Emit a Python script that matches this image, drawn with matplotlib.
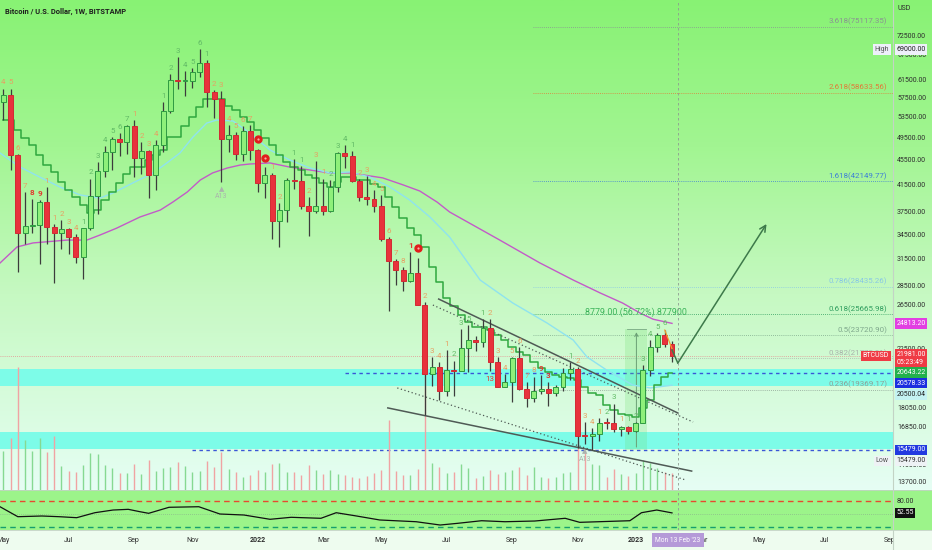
import numpy as np
import pandas as pd
import matplotlib
matplotlib.use('Agg')
import matplotlib.pyplot as plt
from matplotlib.colors import LinearSegmentedColormap
from matplotlib.patches import Rectangle
from matplotlib.lines import Line2D
from matplotlib.transforms import blended_transform_factory, offset_copy

plt.rcParams['font.family'] = ['Roboto', 'DejaVu Sans']

W, H = 932, 550

# ---------------- data: BTCUSD weekly, first candle = week of 3 May 2021 ----------------
start_date = '2021-05-03'
opens = [56600, 58250, 46450, 34700, 35650, 35800, 39050, 35600, 34700, 35300,
         34250, 31800, 35400, 39850, 43800, 47050, 49300, 48900, 51750, 46050,
         47250, 43200, 48200, 54900, 61500, 61300, 61350, 63300, 65500, 58750,
         57300, 49400, 50100, 46700, 50800, 47300, 41850, 43100, 36300, 37900,
         42400, 42200, 38400, 37700, 38400, 37800, 41300, 46850, 46400, 42150,
         39700, 39450, 38500, 34050, 31300, 30300, 29050, 29900, 26600, 20550,
         21050, 19300, 20850, 20800, 22600, 23300, 23150, 24400, 21500, 19570,
         19950, 21800, 19400, 18800, 19300, 19450, 19150, 19550, 20650, 20900,
         16300, 16280, 16450, 17100, 17090, 16750, 16830, 16610, 17130, 20870,
         22700, 23750, 22950]
highs = [59600, 59600, 46600, 40500, 39450, 39350, 41300, 36000, 36550, 35400,
         34650, 35450, 42600, 45300, 48100, 49700, 50500, 52000, 52900, 48800,
         47350, 49200, 56600, 62900, 67000, 63700, 64250, 69000, 66300, 59300,
         59100, 51950, 50650, 51900, 52100, 47600, 44400, 43500, 38900, 42650,
         45800, 44700, 39800, 45400, 42600, 42350, 47000, 48200, 47200, 42450,
         42950, 40800, 40000, 34250, 31500, 30650, 32350, 31650, 26850, 21850,
         21500, 22500, 21600, 24280, 24650, 23650, 25200, 25200, 21850, 20550,
         21850, 22750, 19950, 20350, 20450, 19950, 19700, 21000, 21450, 21050,
         17200, 16800, 17400, 17430, 18400, 16950, 16950, 17200, 21250, 23350,
         23950, 24250, 23200]
lows = [53000, 43900, 30000, 33400, 34800, 31000, 33350, 28800, 32700, 32150,
        31100, 29300, 35200, 37300, 42850, 43950, 46400, 46600, 42850, 43400,
        39600, 40800, 47100, 54400, 59600, 57900, 59700, 62300, 55600, 53300,
        42000, 47100, 45600, 45550, 45700, 40550, 39600, 34000, 32950, 36250,
        41000, 38000, 34350, 37400, 37150, 37600, 40500, 44250, 42100, 39200,
        38550, 37600, 33700, 26000, 28650, 28000, 29000, 26550, 17600, 19650,
        18650, 18950, 18950, 20750, 20700, 22400, 22700, 20800, 19550, 19550,
        18500, 19350, 18150, 18500, 19050, 18200, 18900, 19250, 20050, 15600,
        15800, 15479, 16000, 16700, 16550, 16300, 16450, 16550, 17100, 20400,
        22300, 22750, 21450]
closes = [58250, 46450, 34700, 35650, 35800, 39050, 35600, 34700, 35300, 34250,
          31800, 35400, 39850, 43800, 47050, 49300, 48900, 51750, 46050, 47250,
          43200, 48200, 54900, 61500, 61300, 61350, 63300, 65500, 58750, 57300,
          49400, 50100, 46700, 50800, 47300, 41850, 43100, 36300, 37900, 42400,
          42200, 38400, 37700, 38400, 37800, 41300, 46850, 46400, 42150, 39700,
          39450, 38500, 34050, 31300, 30300, 29050, 29900, 26600, 20550, 21050,
          19300, 20850, 20800, 22600, 23300, 23150, 24400, 21500, 19570, 19950,
          21800, 19400, 18800, 19300, 19450, 19150, 19550, 20650, 20900, 16300,
          16280, 16450, 17100, 17090, 16750, 16830, 16610, 17130, 20870, 22700,
          23750, 22950, 21981]
# volume, thousand BTC (approx.)
volumes = [39, 52, 123, 50, 39, 52, 38, 54, 24, 19, 18, 25, 37, 36, 25, 22, 17, 17, 26, 16,
           30, 19, 22, 23, 28, 24, 18, 19, 29, 23, 38, 21, 18, 13, 15, 20, 18, 26, 27, 18,
           18, 15, 25, 20, 16, 20, 16, 15, 13, 12, 14, 17, 20, 70, 19, 15, 15, 21, 132, 27,
           23, 17, 18, 26, 22, 12, 14, 20, 16, 18, 20, 23, 15, 23, 13, 12, 13, 17, 18, 50,
           40, 26, 25, 13, 21, 16, 14, 17, 30, 27, 22, 18, 17]
# stepped trailing line (one value per candle)
step_line = [53000, 53000, 51050, 49550, 48270, 46500, 44800, 43650, 42050, 40810,
             39760, 38590, 37450, 37870, 39320, 40500, 41890, 43330, 44470, 44470,
             45650, 46500, 47380, 49730, 49730, 51800, 53600, 55630, 57310, 57310,
             57310, 55830, 55000, 53600, 52600, 51050, 49550, 48270, 46500, 45300,
             44470, 43970, 43160, 42680, 41890, 41270, 42050, 42840, 42840, 42360,
             42360, 41740, 41270, 39760, 38300, 36770, 35400, 34500, 33000, 30620,
             28960, 27270, 26470, 25600, 24940, 24480, 24480, 24210, 23760, 23320,
             22720, 22300, 22050, 21480, 21000, 20690, 20460, 20300, 20250, 20090,
             19570, 19130, 18980, 18300, 17960, 17700, 17600, 17500, 18100, 18640,
             19710, 20300, 20643]
# moving averages read at sample points (candle index, price)
ema_idx = [-0.45, 2.3, 5, 7.8, 10.6, 13.3, 15.1, 17.8, 20.6, 22.5, 24.3, 26.1, 28, 29.4, 31.6,
           33.9, 36.7, 39.4, 42.2, 44.9, 47.7, 50.4, 53.2, 55.9, 58.7, 61.4, 65.6, 70.1, 74.8,
           78.4, 80.3, 83, 86.6, 89, 92]
ema_val = [46850, 44470, 42840, 41270, 40060, 39600, 40360, 41890, 43480, 45140, 46850, 49730,
           52400, 53000, 52800, 50500, 47380, 45650, 44300, 43500, 43650, 42840, 41270, 39320,
           36900, 34250, 29170, 26770, 24850, 23320, 21890, 20850, 19710, 19500, 19700]
ma_idx = [-0.45, 1.9, 4.1, 8.8, 11.5, 13.3, 15.6, 18.8, 21.6, 23.3, 25.3, 27.1, 28.8, 30.8, 32.6,
          33.9, 36.7, 39.4, 42.2, 44.9, 47.7, 52.2, 55, 57.3, 59.7, 61.4, 68.3, 73.8, 78.4, 82.1,
          85.2, 87.6, 89.4, 92]
ma_val = [31080, 33000, 33500, 33860, 33860, 34500, 35400, 36900, 37870, 39000, 40500, 42360,
          43500, 44300, 44800, 44970, 45150, 44460, 43970, 43500, 43500, 42700, 41600, 40660,
          39000, 37600, 33860, 31100, 29170, 27800, 26770, 25790, 25200, 24813.20]
# oscillator (lower pane)
osc_idx = [-0.45, 2, 5.3, 7.7, 10.1, 12.6, 15.1, 17.2, 18.8, 20, 22.8, 26.9, 29.8, 33.1, 36.7,
           39.6, 43.7, 45.8, 48.6, 51.8, 56.8, 60.1, 62.5, 65.8, 69, 73.1, 77.3, 79.3, 86.2,
           87.8, 89.9, 92]
osc_val = [66.8, 43.8, 45.4, 43.8, 41.5, 53.0, 59.2, 60.8, 55.3, 51.6, 65.5, 66.8, 50.0, 47.7,
           37.8, 42.4, 40.1, 53.0, 45.4, 36.2, 32.2, 24.6, 28.5, 34.5, 32.2, 33.8, 40.1, 30.8,
           34.5, 53.0, 59.2, 52.55]

# TD-style counts above candles: o = sell setup, g = buy setup, r = 8/9
td_idx = list(range(35)) + [37, 38, 40, 41, 42, 43, 44, 45, 46, 47, 48, 49, 50, 51, 52, 53, 54, 55,
                            56, 58, 59, 60, 61, 62, 63, 64, 66, 67, 68, 69, 70, 71, 72, 73, 74, 75,
                            78, 79, 80, 81, 82, 83, 84, 85, 86, 87, 88, 89, 90, 91, 92]
td_text = list('45678911234123456712341234561234567') + \
    list('12112312341234567812341235123456789312341231123456')
td_kind = list('oooorrooooogggggggoooogggggggooooooo')[:35] + \
    list('ooggoooggggooooooorooooggggooooooorrgooooggogggggg')
circle_idx = [35, 36, 57]

# fibonacci extension
fib_levels = [3.618, 2.618, 1.618, 0.786, 0.618, 0.5, 0.382, 0.236]
fib_prices = [75117.35, 58633.56, 42149.77, 28435.26, 25665.98, 23720.90, 21775.81, 19369.17]
fib_colors = ['#8a9292', '#e07b39', '#3d7fd6', '#88c8e4', '#2f9e5e', '#7fa88c', '#a9b3ab', '#8e9f95']
fib_start = 72.9

# support zones and lines
zones = [(19640, 20930), (15520, 16550)]
dash_levels = [(20643.22, 47), (15479.00, 26)]
last_price = 21981.00
wedge_solid = [((59.9, 92.8), (27170, 17760)), ((52.9, 94.7), (18100, 14300))]
wedge_dotted = [((59.1, 94.9), (26570, 17170)), ((54.2, 93.9), (19500, 13830))]
proj_idx = [92.0, 92.8, 105.0]
proj_price = [22470, 21400, 35950]
swing_idx = [91, 92]
swing_price = [24200, 22570]
range_low, range_high = 15479.00, 24258.00
range_idx = (85.6, 88.6)

ytick_vals = [72500, 67500, 61500, 57500, 53500, 49500, 45500, 41500, 37500, 34500, 31500,
              28500, 26500, 24500, 22500, 20500, 18050, 16850, 14600, 13700]
month_dates = ['2021-05-01', '2021-07-01', '2021-09-01', '2021-11-01', '2022-01-01', '2022-03-01',
               '2022-05-01', '2022-07-01', '2022-09-01', '2022-11-01', '2023-01-01', '2023-03-01',
               '2023-05-01', '2023-07-01', '2023-09-01']
month_labels = ['May', 'Jul', 'Sep', 'Nov', '2022', 'Mar', 'May', 'Jul', 'Sep', 'Nov', '2023', 'Mar',
                'May', 'Jul', 'Sep']
cursor_idx = 92.8

# ---------------- figure ----------------
o = np.array(opens, float); h = np.array(highs, float)
l = np.array(lows, float); c = np.array(closes, float)
idx = np.arange(len(c))
up = c >= o
dates = pd.date_range(start_date, periods=130, freq='7D')

fig = plt.figure(figsize=(W / 100, H / 100), dpi=100)
fig.patch.set_facecolor('#eefcef')

XL = (-0.45, 122.4)
main_rect = [0, 60 / H, 893 / W, 490 / H]
osc_rect = [0, 20 / H, 893 / W, 40 / H]
AX_FS = 5.0

bg = fig.add_axes([0, 60 / H, 1, 490 / H], zorder=0)
cmap = LinearSegmentedColormap.from_list(
    'bg', [(0, '#88f274'), (0.3, '#a2f592'), (0.6, '#c6f9c2'), (1, '#e6fef4')])
bg.imshow(np.linspace(0, 1, 256)[:, None], aspect='auto', cmap=cmap, extent=[0, 1, 0, 1])
bg.set_axis_off()
bg2 = fig.add_axes([0, 20 / H, 1, 40 / H], zorder=0)
bg2.set_facecolor('#9cf48a')
bg2.set_xticks([]); bg2.set_yticks([])
for s in bg2.spines.values():
    s.set_visible(False)

ax = fig.add_axes(main_rect, zorder=1)
ax.set_facecolor('none')
ax.set_yscale('log')
ax.set_xlim(*XL)
ax.set_ylim(13325, 82926)
ax.set_xticks([]); ax.set_yticks([]); ax.set_yticks([], minor=True)
for s in ax.spines.values():
    s.set_visible(False)

# zones, levels
for lo, hi in zones:
    ax.axhspan(lo, hi, color='#7dfce8', zorder=1, lw=0)
for price, i0 in dash_levels:
    ax.plot([i0, XL[1]], [price, price], color='#3a56d6', lw=1.0, ls=(0, (2.5, 2.5)), zorder=2)
ax.axhline(last_price, color='#e58f8f', lw=0.6, ls=(0, (1, 1.5)), zorder=2)

# volume
vcol = np.where(up, '#86d992', '#f0a3a3')
ax.vlines(idx, 0, np.array(volumes) / 490.0, transform=ax.get_xaxis_transform(),
          colors=vcol, lw=1.0, zorder=2)

# fib levels
for lvl, p, col in zip(fib_levels, fib_prices, fib_colors):
    ax.plot([fib_start, XL[1]], [p, p], color=col, lw=0.6, ls=(0, (1, 1.5)), zorder=2)
    ax.annotate(f'{lvl:g}({p:.2f})', xy=(0.9935, p), xycoords=ax.get_yaxis_transform(),
                xytext=(0, 1.2), textcoords='offset points', ha='right', va='bottom',
                fontsize=5.7, color=col, zorder=7)

# price range measurement
ax.add_patch(Rectangle((range_idx[0], range_low), range_idx[1] - range_idx[0], range_high - range_low,
                       facecolor='#6bdc6b', alpha=0.22, edgecolor='none', zorder=2))
mid = sum(range_idx) / 2
ax.annotate('', xy=(mid, range_high), xytext=(mid, range_low),
            arrowprops=dict(arrowstyle='->', color='#6a9f74', lw=0.7, mutation_scale=6), zorder=3)
ax.plot([range_idx[0] + 0.2, range_idx[1] - 0.2], [range_high, range_high], color='#7aa884', lw=0.6, zorder=3)
pct = (range_high - range_low) / range_low * 100
ax.annotate(f'{range_high - range_low:.2f} ({pct:.2f}%) 877900', xy=(mid, range_high),
            xytext=(0, 9), textcoords='offset points', ha='center', va='bottom',
            fontsize=6.4, color='#3cb45a', zorder=7)

# moving averages
ax.plot(ma_idx, ma_val, color='#c35ac8', lw=1.0, zorder=3)
ax.plot(ema_idx, ema_val, color='#8fe3ef', lw=1.0, zorder=3)
ax.plot(idx, step_line, color='#2fa83f', lw=1.1, drawstyle='steps-mid', zorder=4)

# wedge
for xs, ys in wedge_solid:
    ax.plot(xs, ys, color='#4f5a55', lw=1.1, zorder=4)
for xs, ys in wedge_dotted:
    ax.plot(xs, ys, color='#4f5a55', lw=0.9, ls=(0, (1, 2)), zorder=4)

# candles
ax.vlines(idx, l, h, color='#3c3c3c', lw=0.9, zorder=5)
blo = np.minimum(o, c); bhi = np.maximum(o, c)
bh = np.maximum(bhi - blo, blo * 0.004)
ax.bar(idx[up], bh[up], bottom=blo[up], width=0.68, color='#8ef07a', edgecolor='#2e9a42',
       lw=0.7, zorder=6)
ax.bar(idx[~up], bh[~up], bottom=blo[~up], width=0.68, color='#e8323c', edgecolor='#d22a33',
       lw=0.7, zorder=6)

# projection
ax.plot(swing_idx, swing_price, color='#f0a030', lw=0.9, zorder=7)
ax.plot(proj_idx[:2], proj_price[:2], color='#3d7a4a', lw=1.1, zorder=7)
ax.annotate('', xy=(proj_idx[2], proj_price[2]), xytext=(proj_idx[1], proj_price[1]),
            arrowprops=dict(arrowstyle='->', color='#3d7a4a', lw=1.1, mutation_scale=11,
                            shrinkA=0, shrinkB=0), zorder=7)

# counts
kind_col = {'o': '#e6a062', 'g': '#62bb66', 'r': '#e23a2e'}
for i, t, k in zip(td_idx, td_text, td_kind):
    ax.annotate(t, xy=(i, h[i]), xytext=(0, 2.2), textcoords='offset points', ha='center',
                va='bottom', fontsize=5.8, color=kind_col[k],
                fontweight='bold' if k == 'r' else 'normal', zorder=8)
circ_tr = offset_copy(ax.transData, fig=fig, y=7, units='points')
for i in circle_idx:
    ax.plot(i, h[i], 'o', ms=5, color='#e21c1c', mec='#e21c1c', transform=circ_tr, zorder=8)
    ax.plot(i, h[i], 'o', ms=1.6, color='#f7b0a0', mec='none', transform=circ_tr, zorder=9)
ax.annotate('13', xy=(67, l[67]), xytext=(0, -4), textcoords='offset points', ha='center',
            va='top', fontsize=5.8, color='#e23a2e', zorder=8)
for i in (30, 80):
    ax.annotate('\u25B2\nA13', xy=(i, l[i]), xytext=(0, -3), textcoords='offset points',
                ha='center', va='top', fontsize=5.0, color='#aab4ac', linespacing=1.0, zorder=8)

ax.axvline(cursor_idx, color='#8f9a92', lw=0.6, ls=(0, (3, 3)), zorder=8)

# right price scale
ytr = ax.get_yaxis_transform()
for v in ytick_vals:
    ax.text(1.0045, v, f'{v:.2f}', transform=ytr, ha='left', va='center', fontsize=AX_FS,
            color='#2e2e2e', clip_on=False, zorder=9)
fig.text(898 / W, 1 - 9 / H, 'USD', fontsize=AX_FS, color='#2e2e2e', va='center')


def tag(price, text, fc, tc='white', dy=0, dx=2.4, ha='left', va='center'):
    ax.annotate(text, xy=(1, price), xycoords=ytr, xytext=(dx, dy), textcoords='offset points',
                ha=ha, va=va, fontsize=AX_FS, color=tc, annotation_clip=False, zorder=20,
                linespacing=1.1,
                bbox=dict(boxstyle='square,pad=0.25', fc=fc, ec='none'))


tag(69000, '69000.00', '#eef0fa', '#222222')
tag(69000, 'High', '#eef0fa', '#555555', dx=-3, ha='right')
tag(ma_val[-1], f'{ma_val[-1]:.2f}', '#e23fe2')
tag(last_price, f'{last_price:.2f}\n05:23:49', '#ef3b45', dy=3.4, va='top')
tag(last_price, 'BTCUSD', '#ef3b45', dx=-3, ha='right')
tag(step_line[-1], '20643.22', '#22b14c')
tag(20578.33, '20578.33', '#1c2fe0', dy=-6.9)
tag(20500.04, '20500.04', '#c4f2f2', '#222222', dy=-14.5)
tag(15479.00, '15479.00', '#2239e0')
tag(15479.00, '15479.00', '#eef2f5', '#333333', dy=-7.9)
tag(15479.00, 'Low', '#eef2f5', '#555555', dy=-7.9, dx=-3, ha='right')

# ---------------- lower oscillator ----------------
axo = fig.add_axes(osc_rect, zorder=1)
axo.set_facecolor('none')
axo.set_xlim(*XL)
axo.set_ylim(13.1, 105.4)
axo.set_xticks([]); axo.set_yticks([])
for s in axo.spines.values():
    s.set_visible(False)
axo.axhline(80, color='#e8492f', lw=1.0, ls=(0, (4, 3)))
axo.axhline(50, color='#86a08a', lw=0.5, ls=(0, (1, 2)))
axo.axhline(20, color='#179e6e', lw=1.0, ls=(0, (4, 3)))
axo.plot(osc_idx, osc_val, color='#111111', lw=0.9)
axo.axvline(cursor_idx, color='#8f9a92', lw=0.6, ls=(0, (3, 3)))
otr = axo.get_yaxis_transform()
axo.text(1.0045, 80, '80.00', transform=otr, ha='left', va='center', fontsize=AX_FS,
         color='#2e2e2e', clip_on=False)
axo.annotate(f'{osc_val[-1]:.2f}', xy=(1, osc_val[-1]), xycoords=otr, xytext=(2.4, 0),
             textcoords='offset points', ha='left', va='center', fontsize=AX_FS, color='white',
             annotation_clip=False, bbox=dict(boxstyle='square,pad=0.25', fc='#111111', ec='none'))

# ---------------- time axis ----------------
xtr = blended_transform_factory(ax.transData, fig.transFigure)
for d, lab in zip(month_dates, month_labels):
    i = int(np.argmax(dates >= pd.Timestamp(d)))
    fig.text(i, 1 - 540 / H, lab, transform=xtr, ha='center', va='center', fontsize=AX_FS,
             color='#2e2e2e', fontweight='bold' if lab.isdigit() else 'normal')
fig.text(cursor_idx, 1 - 540 / H, "Mon 13 Feb '23", transform=xtr, ha='center', va='center',
         fontsize=4.8, color='white', zorder=5,
         bbox=dict(boxstyle='square,pad=0.5', fc='#b59ad8', ec='none'))
fig.add_artist(Rectangle((893 / W, 0), 39 / W, 20 / H, transform=fig.transFigure,
                         facecolor='#eefcef', edgecolor='none', zorder=6))
fig.add_artist(Line2D([893 / W, 893 / W], [0, 1], transform=fig.transFigure,
                      color='#c3d3c5', lw=0.8, zorder=7))
fig.add_artist(Line2D([0, 1], [60 / H, 60 / H], transform=fig.transFigure,
                      color='#c3d3c5', lw=0.6, zorder=7))
fig.add_artist(Line2D([0, 1], [20 / H, 20 / H], transform=fig.transFigure,
                      color='#c3d3c5', lw=0.6, zorder=7))

fig.text(5 / W, 1 - 11.5 / H, 'Bitcoin / U.S. Dollar, 1W, BITSTAMP', fontsize=5.4,
         fontweight='bold', color='#1e1e1e', va='center')

fig.savefig('out.png', dpi=100, facecolor=fig.get_facecolor())
